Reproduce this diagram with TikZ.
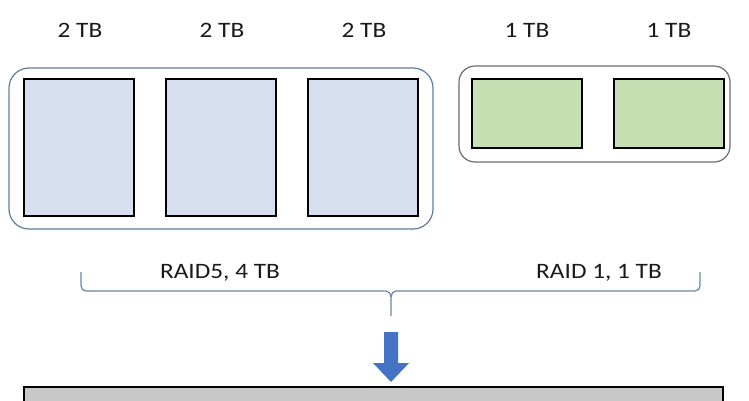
\documentclass[tikz,border=0pt]{standalone}
\usepackage{graphicx}
\usepackage{fontspec}
\setmainfont{Carlito}
\newcommand\wtxt[1]{\scalebox{1.15}[1]{#1}}
\definecolor{diskblue}{HTML}{D5DFF0}
\definecolor{diskgreen}{HTML}{C6E0B4}
\definecolor{groupblue}{HTML}{5F7E9E}
\definecolor{groupgray}{HTML}{6E6E6E}
\definecolor{bracecol}{HTML}{6A86A2}
\definecolor{arrowblue}{HTML}{4472C4}
\definecolor{poolgray}{HTML}{C8C8C8}
\definecolor{txtcol}{HTML}{1A1A1A}
\begin{document}
\begin{tikzpicture}[x=1pt,y=-1pt,
  lbl/.style={font=\fontsize{22}{25}\selectfont, text=txtcol, anchor=base, inner sep=0pt},
  bdisk/.style={draw=black, line width=1.5pt, fill=diskblue, minimum width=110pt, minimum height=137pt, inner sep=0pt},
  gdisk/.style={draw=black, line width=1.5pt, fill=diskgreen, minimum width=110pt, minimum height=69pt, inner sep=0pt},
  group/.style={line width=1.2pt, rounded corners=20pt, inner sep=0pt},
  pool/.style={draw=black, line width=1.5pt, fill=poolgray}]
\clip (0,0) rectangle (749,400);
\fill[white] (0,0) rectangle (749,400);
% containers
\node[group, draw=groupblue, minimum width=424pt, minimum height=161pt] (g1) at (221,148.5) {};
\node[group, draw=groupgray, rounded corners=16pt, minimum width=271pt, minimum height=96pt] (g2) at (594.5,114) {};
% disks
\node[bdisk] (b1) at (79,147.5) {};
\node[bdisk] (b2) at (221,147.5) {};
\node[bdisk] (b3) at (363,147.5) {};
\node[gdisk] (d1) at (527,113.5) {};
\node[gdisk] (d2) at (669,113.5) {};
% size labels
\node[lbl] (t1) at (80,37) {\wtxt{2 TB}};
\node[lbl] (t2) at (222,37) {\wtxt{2 TB}};
\node[lbl] (t3) at (364,37) {\wtxt{2 TB}};
\node[lbl] (t4) at (527,37) {\wtxt{1 TB}};
\node[lbl] (t5) at (669,37) {\wtxt{1 TB}};
% raid labels
\node[lbl] (r5) at (220,278) {\wtxt{RAID5, 4 TB}};
\node[lbl] (r1) at (599,278) {\wtxt{RAID 1, 1 TB}};
% brace
\coordinate (bl) at (81,272);
\coordinate (br) at (700,272);
\coordinate (bm) at (391,316);
\draw[bracecol, line width=1.2pt, line join=round]
  (bl) -- (81,286) to[out=-90,in=180] (86,291) -- (386,291)
  to[out=0,in=90] (bm |- 0,297) -- (bm);
\draw[bracecol, line width=1.2pt, line join=round]
  (br) -- (700,286) to[out=-90,in=0] (695,291) -- (396,291)
  to[out=180,in=90] (bm |- 0,297);
% pool
\node[pool, minimum width=699pt, minimum height=40pt, inner sep=0pt] (pool) at (373.5,407) {};
% arrow
\coordinate (at) at (391,382);
\fill[arrowblue] (384,332) -- (398,332) -- (398,363) -- (409,363) -- (at) -- (373,363) -- (384,363) -- cycle;
\end{tikzpicture}
\end{document}
